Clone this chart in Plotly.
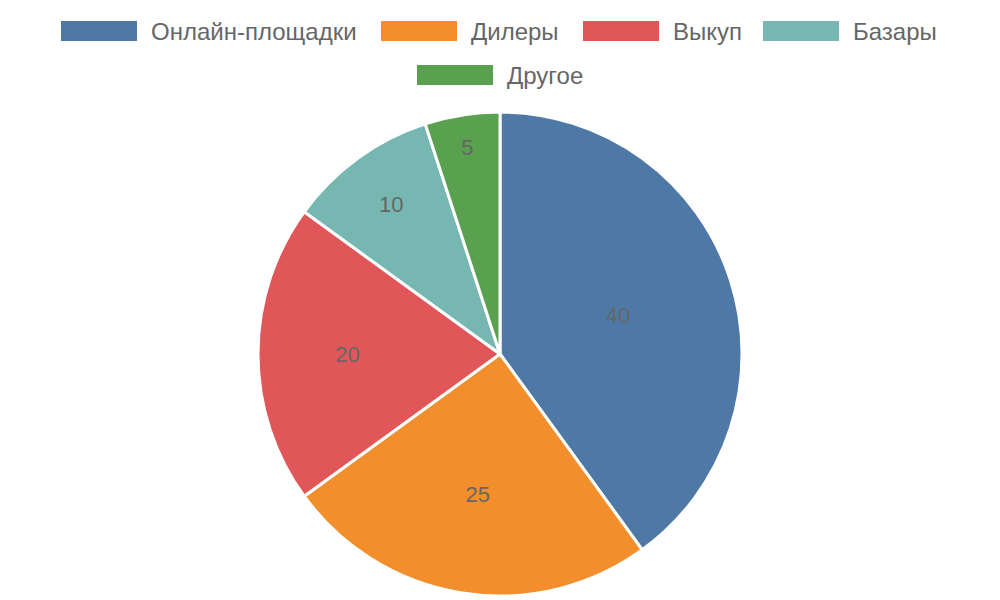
import plotly.graph_objects as go

labels = ["Онлайн-площадки", "Дилеры", "Выкуп", "Базары", "Другое"]
values = [40, 25, 20, 10, 5]
colors = ["#4e79a7", "#f28e2b", "#e15759", "#76b7b2", "#59a14f"]

W, H = 1000, 600
OFF = 8  # page body margin

fig = go.Figure(go.Pie(
    labels=labels, values=values, sort=False, direction="clockwise", rotation=0,
    marker=dict(colors=colors, line=dict(color="white", width=3)),
    textinfo="value", textposition="inside", insidetextorientation="horizontal",
    textfont=dict(color="#666666", size=22),
    domain=dict(x=[(258 - OFF) / W, (742 - OFF) / W],
                y=[1 - (596 - OFF) / H, 1 - (112 - OFF) / H]),
    showlegend=False, hoverinfo="label+value",
))

# custom legend with wide swatches, like the original
legend_pos = [(61, 31), (381, 31), (583, 31), (763, 31), (417, 75)]
for (px, py), lab, col in zip(legend_pos, labels, colors):
    px, py = px - OFF, py - OFF
    fig.add_shape(type="rect", xref="paper", yref="paper",
                  x0=px / W, x1=(px + 76) / W, y0=1 - (py + 10) / H, y1=1 - (py - 10) / H,
                  fillcolor=col, line=dict(width=0))
    fig.add_annotation(xref="paper", yref="paper", x=(px + 88) / W, y=1 - py / H,
                       text=lab, showarrow=False, xanchor="left", yanchor="middle",
                       font=dict(size=24, color="#666666"))

fig.update_layout(
    width=W, height=H, margin=dict(l=0, r=0, t=0, b=0),
    paper_bgcolor="white", plot_bgcolor="white",
    font=dict(family="Liberation Sans, Arial, sans-serif"),
)
fig.write_html("out.html")
